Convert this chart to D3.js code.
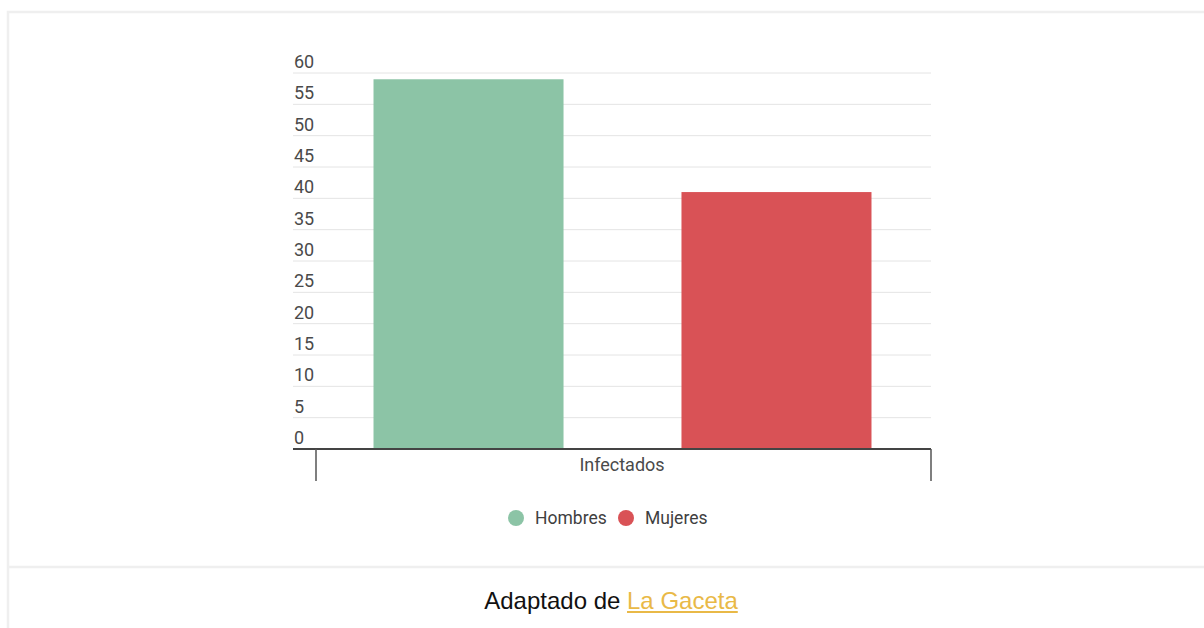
<!DOCTYPE html>
<html>
<head>
<meta charset="utf-8">
<script src="https://cdn.jsdelivr.net/npm/d3@7"></script>
<style>
	body { margin: 0; background: #fff; }
	#caption { position: absolute; left: 0; top: 587px; width: 1222px; text-align: center;
		font-family: "Liberation Sans", Arial, sans-serif; font-size: 24px; color: #111; }
	#caption a { color: #e9b947; }
</style>
</head>
<body>
<svg id="chart" width="1204" height="628"></svg>
<div id="caption">Adaptado de <a href="#">La Gaceta</a></div>
<script>
var categorias = ["Infectados"];
var series = ["Hombres", "Mujeres"];
var valores = [59, 41];
var colori = ["#8cc4a6", "#d95256"];
var ticks = [0, 5, 10, 15, 20, 25, 30, 35, 40, 45, 50, 55, 60];

var svg = d3.select("#chart");

// outer frame
svg.append("rect")
	.attr("x", 8).attr("y", 12)
	.attr("width", 1210).attr("height", 640)
	.attr("fill", "none")
	.attr("stroke", "#efefef")
	.attr("stroke-width", 2.5);
svg.append("line")
	.attr("x1", 9).attr("x2", 1204)
	.attr("y1", 567).attr("y2", 567)
	.attr("stroke", "#efefef")
	.attr("stroke-width", 2.5);

var y = d3.scaleLinear().domain([0, 60]).range([449, 73]);
var x = d3.scaleBand().domain(categorias).range([315, 930]);
var xs = d3.scaleBand().domain(series).range([0, x.bandwidth()])
	.paddingInner(0.383).paddingOuter(0.19);

// grid
svg.append("g").selectAll("line").data(ticks.slice(1)).enter()
	.append("line")
	.attr("x1", 293).attr("x2", 931)
	.attr("y1", function(d){ return y(d); })
	.attr("y2", function(d){ return y(d); })
	.attr("stroke", "#e4e4e4")
	.attr("stroke-width", 1);

// y labels
svg.append("g").selectAll("text").data(ticks).enter()
	.append("text")
	.attr("x", 294)
	.attr("y", function(d){ return y(d) - 5; })
	.text(function(d){ return d; })
	.style("font-family", "Roboto, sans-serif")
	.style("font-size", "18px")
	.style("fill", "#4a4a4a");

// bars
svg.append("g").selectAll("rect").data(valores).enter()
	.append("rect")
	.attr("x", function(d,i){ return x(categorias[0]) + xs(series[i]); })
	.attr("y", function(d){ return y(d); })
	.attr("width", xs.bandwidth())
	.attr("height", function(d){ return y(0) - y(d); })
	.attr("fill", function(d,i){ return colori[i]; });

// x axis
svg.append("line")
	.attr("x1", 293).attr("x2", 931)
	.attr("y1", y(0)).attr("y2", y(0))
	.attr("stroke", "#444").attr("stroke-width", 2);
svg.append("g").selectAll("line").data([316, 931]).enter()
	.append("line")
	.attr("x1", function(d){ return d; }).attr("x2", function(d){ return d; })
	.attr("y1", y(0)).attr("y2", 481)
	.attr("stroke", "#555").attr("stroke-width", 1.5);
svg.append("text")
	.attr("x", 622)
	.attr("y", 471)
	.attr("text-anchor", "middle")
	.text(categorias[0])
	.style("font-family", "Roboto, sans-serif")
	.style("font-size", "18px")
	.style("fill", "#4a4a4a");

// legend
var legX = [516, 626];
var leg = svg.append("g").selectAll("g").data(series).enter().append("g");
leg.append("circle")
	.attr("cx", function(d,i){ return legX[i]; })
	.attr("cy", 518)
	.attr("r", 8)
	.attr("fill", function(d,i){ return colori[i]; });
leg.append("text")
	.attr("x", function(d,i){ return legX[i] + 19; })
	.attr("y", 524)
	.text(function(d){ return d; })
	.style("font-family", "Roboto, sans-serif")
	.style("font-size", "17.5px")
	.style("fill", "#3f3f3f");
</script>
</body>
</html>
